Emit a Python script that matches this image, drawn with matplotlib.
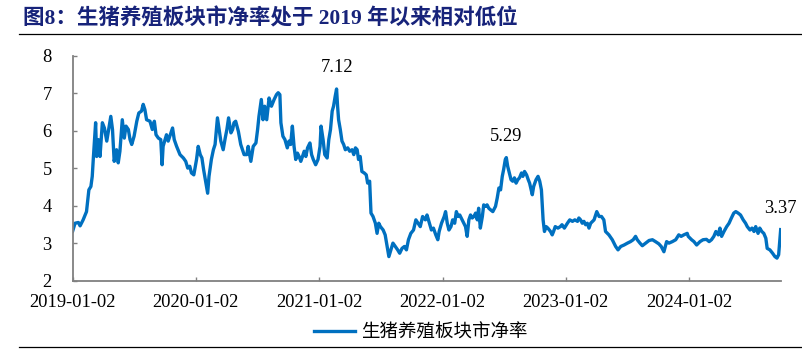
import matplotlib
matplotlib.use('Agg')
import matplotlib.pyplot as plt
import matplotlib.dates as mdates
from matplotlib.lines import Line2D
import pandas as pd

# data: P/B of the hog farming sector (date, value)
#------------------------------------------------------------------------------
pb2019 = [('01-02', 3.33), ('01-09', 3.54), ('01-19', 3.56), ('01-24', 3.47), ('02-02', 3.63),
          ('02-12', 3.85), ('02-19', 4.43), ('02-25', 4.52), ('03-01', 4.79), ('03-04', 5.24),
          ('03-11', 6.22), ('03-14', 5.32), ('03-19', 5.77), ('03-24', 5.32), ('03-31', 6.22),
          ('04-06', 6.08), ('04-13', 5.73), ('04-17', 5.95), ('04-25', 6.39), ('04-30', 6.04),
          ('05-05', 5.19), ('05-12', 5.50), ('05-17', 5.15), ('05-22', 5.46), ('05-29', 6.30),
          ('06-04', 5.81), ('06-09', 6.13), ('06-16', 6.04), ('06-21', 5.77), ('06-26', 5.64),
          ('07-03', 5.86), ('07-11', 6.26), ('07-17', 6.48), ('07-25', 6.53), ('07-30', 6.71),
          ('08-04', 6.57), ('08-09', 6.30), ('08-19', 6.26), ('08-26', 6.04), ('09-01', 6.26),
          ('09-06', 5.90), ('09-13', 5.81), ('09-20', 5.77), ('09-24', 5.10), ('09-27', 5.59),
          ('10-07', 5.90), ('10-12', 5.73), ('10-20', 5.95), ('10-25', 6.08), ('10-30', 5.77),
          ('11-06', 5.59), ('11-16', 5.37), ('11-26', 5.28), ('12-03', 5.19), ('12-09', 5.01),
          ('12-15', 5.06), ('12-20', 4.88), ('12-27', 4.83)]

pb2020 = [('01-04', 5.24), ('01-09', 5.59), ('01-15', 5.37), ('01-20', 5.28), ('01-25', 4.97),
          ('02-01', 4.61), ('02-06', 4.34), ('02-10', 4.79), ('02-17', 5.24), ('02-23', 5.50),
          ('02-28', 5.64), ('03-06', 6.35), ('03-11', 6.04), ('03-16', 5.73), ('03-23', 5.50),
          ('03-29', 5.81), ('04-03', 6.04), ('04-08', 6.35), ('04-15', 5.95), ('04-20', 6.04),
          ('04-24', 6.22), ('04-29', 6.26), ('05-07', 5.99), ('05-14', 5.64), ('05-24', 5.37),
          ('06-01', 5.37), ('06-05', 5.59), ('06-13', 5.19), ('06-20', 5.59), ('06-28', 5.68),
          ('07-03', 6.04), ('07-07', 6.39), ('07-14', 6.84), ('07-19', 6.30), ('07-24', 6.66),
          ('07-30', 6.30), ('08-06', 6.88), ('08-13', 6.66), ('08-21', 6.84), ('08-28', 6.97),
          ('09-02', 7.02), ('09-07', 6.97), ('09-10', 6.22), ('09-16', 5.86), ('09-22', 5.77),
          ('09-29', 5.55), ('10-04', 5.73), ('10-09', 5.64), ('10-14', 6.13), ('10-19', 5.59),
          ('10-24', 5.24), ('10-29', 5.41), ('11-03', 5.32), ('11-08', 5.19), ('11-13', 5.32),
          ('11-18', 5.46), ('11-23', 5.32), ('11-28', 5.55), ('12-05', 5.68), ('12-10', 5.37),
          ('12-15', 5.24), ('12-22', 5.10), ('12-29', 5.24)]

pb2021 = [('01-04', 5.59), ('01-07', 6.13), ('01-13', 5.77), ('01-18', 5.37), ('01-25', 5.28),
          ('01-30', 5.77), ('02-04', 6.04), ('02-09', 6.53), ('02-13', 6.66), ('02-18', 6.93),
          ('02-22', 7.12), ('02-25', 6.66), ('02-28', 6.30), ('03-05', 6.04), ('03-10', 5.73),
          ('03-15', 5.64), ('03-20', 5.50), ('03-27', 5.55), ('04-02', 5.46), ('04-09', 5.50),
          ('04-14', 5.37), ('04-19', 5.55), ('04-24', 5.50), ('04-28', 5.24), ('05-03', 5.32),
          ('05-08', 4.92), ('05-15', 4.88), ('05-21', 4.83), ('05-25', 4.61), ('05-31', 4.66),
          ('06-04', 3.81), ('06-10', 3.72), ('06-17', 3.54), ('06-22', 3.27), ('06-27', 3.54),
          ('07-02', 3.45), ('07-10', 3.36), ('07-16', 3.23), ('07-21', 2.96), ('07-27', 2.65),
          ('08-02', 2.83), ('08-08', 3.01), ('08-15', 2.92), ('08-22', 2.83), ('08-28', 2.74),
          ('09-04', 2.87), ('09-11', 2.92), ('09-17', 2.83), ('09-23', 3.10), ('09-30', 3.27),
          ('10-08', 3.36), ('10-15', 3.63), ('10-28', 3.45), ('11-04', 3.72), ('11-12', 3.63),
          ('11-17', 3.76), ('11-24', 3.54), ('11-30', 3.36), ('12-06', 3.41), ('12-13', 3.23),
          ('12-19', 3.10), ('12-23', 3.32), ('12-30', 3.54)]

pb2022 = [('01-07', 3.72), ('01-11', 3.85), ('01-16', 3.54), ('01-21', 3.36), ('01-27', 3.45),
          ('02-01', 3.63), ('02-07', 3.54), ('02-12', 3.85), ('02-17', 3.72), ('02-22', 3.76),
          ('03-01', 3.63), ('03-06', 3.54), ('03-11', 3.45), ('03-16', 3.19), ('03-21', 3.63),
          ('03-26', 3.76), ('03-31', 3.68), ('04-05', 3.72), ('04-10', 3.81), ('04-15', 3.63),
          ('04-19', 3.94), ('04-24', 3.41), ('04-30', 3.72), ('05-04', 4.03), ('05-09', 3.99),
          ('05-14', 4.03), ('05-19', 3.94), ('05-24', 3.90), ('05-31', 3.85), ('06-08', 3.99),
          ('06-13', 4.21), ('06-18', 4.48), ('06-23', 4.43), ('06-28', 4.79), ('07-02', 4.97),
          ('07-07', 5.24), ('07-10', 5.29), ('07-14', 5.06), ('07-19', 4.88), ('07-24', 4.70),
          ('07-29', 4.66), ('08-03', 4.75), ('08-08', 4.61), ('08-13', 4.70), ('08-18', 4.75),
          ('08-24', 4.88), ('08-28', 4.79), ('09-02', 4.92), ('09-08', 4.83), ('09-13', 4.70),
          ('09-17', 4.61), ('09-25', 4.30), ('09-29', 4.52), ('10-06', 4.70), ('10-12', 4.79),
          ('10-17', 4.66), ('10-22', 4.43), ('10-27', 3.63), ('10-31', 3.32), ('11-05', 3.45),
          ('11-10', 3.41), ('11-18', 3.32), ('11-23', 3.23), ('11-27', 3.32), ('12-02', 3.45),
          ('12-10', 3.41), ('12-17', 3.45), ('12-22', 3.50), ('12-29', 3.41)]

pb2023 = [('01-07', 3.54), ('01-14', 3.63), ('01-22', 3.59), ('01-29', 3.63), ('02-06', 3.59),
          ('02-10', 3.68), ('02-15', 3.63), ('02-20', 3.54), ('02-25', 3.59), ('03-02', 3.50),
          ('03-07', 3.54), ('03-12', 3.41), ('03-17', 3.54), ('03-27', 3.63), ('04-04', 3.85),
          ('04-11', 3.72), ('04-18', 3.72), ('04-25', 3.63), ('04-30', 3.32), ('05-10', 3.23),
          ('05-20', 3.10), ('05-30', 2.92), ('06-06', 2.83), ('06-14', 2.92), ('06-24', 2.96),
          ('07-04', 3.01), ('07-13', 3.05), ('07-21', 3.10), ('07-28', 3.19), ('08-02', 3.10),
          ('08-10', 3.01), ('08-17', 2.94), ('08-27', 3.01), ('09-06', 3.08), ('09-16', 3.10),
          ('09-25', 3.05), ('10-05', 2.99), ('10-12', 2.92), ('10-20', 2.78), ('10-28', 3.05),
          ('11-04', 3.01), ('11-14', 3.05), ('11-24', 3.10), ('12-03', 3.23), ('12-10', 3.19),
          ('12-18', 3.23), ('12-28', 3.27), ('12-31', 3.19)]

pb2024 = [('01-10', 3.10), ('01-17', 3.05), ('01-25', 2.96), ('02-04', 3.05), ('02-13', 3.10),
          ('02-23', 3.11), ('03-02', 3.05), ('03-09', 3.10), ('03-16', 3.19), ('03-22', 3.32),
          ('03-29', 3.23), ('04-03', 3.41), ('04-08', 3.19), ('04-15', 3.32), ('04-23', 3.45),
          ('04-30', 3.54), ('05-07', 3.68), ('05-14', 3.81), ('05-20', 3.85), ('05-27', 3.81),
          ('06-03', 3.76), ('06-11', 3.63), ('06-18', 3.54), ('06-23', 3.45), ('07-01', 3.36),
          ('07-07', 3.41), ('07-13', 3.32), ('07-18', 3.45), ('07-25', 3.27), ('07-30', 3.41),
          ('08-05', 3.32), ('08-11', 3.27), ('08-17', 3.14), ('08-21', 2.87), ('08-29', 2.83),
          ('09-06', 2.74), ('09-13', 2.65), ('09-19', 2.61), ('09-24', 2.70), ('09-30', 3.37)]

# labelled points
labelDates = ['2021-02-22', '2022-07-10', '2024-09-30']
labelValues = [7.12, 5.29, 3.37]

tickLabels = ['2019-01-02', '2020-01-02', '2021-01-02', '2022-01-02', '2023-01-02', '2024-01-02']

titleText = '图8：生猪养殖板块市净率处于 2019 年以来相对低位'
seriesName = '生猪养殖板块市净率'

# assemble series
#------------------------------------------------------------------------------
dates, values = [], []
for year, pairs in zip(range(2019, 2025), [pb2019, pb2020, pb2021, pb2022, pb2023, pb2024]):
    for md, v in pairs:
        dates.append('{}-{}'.format(year, md))
        values.append(v)
dates = pd.to_datetime(dates)

# plot
#------------------------------------------------------------------------------
numFont = 'Liberation Serif'
cjkFont = ['Liberation Serif', 'Noto Sans CJK SC']
lineColor = '#0070c0'
axisColor = '#808080'

fig = plt.figure(figsize=(8.03, 3.55), dpi=100)
ax = fig.add_axes([0.0905, 0.2085, 0.8817, 0.6338])

ax.plot(dates, values, color=lineColor, lw=2.4, label=seriesName, solid_joinstyle='round')

ax.set_ylim(2, 8)
ax.set_yticks(range(2, 9))
ax.set_xlim(pd.Timestamp('2019-01-02'), pd.Timestamp('2024-09-30'))
ax.set_xticks(pd.to_datetime(tickLabels))
ax.xaxis.set_major_formatter(mdates.DateFormatter('%Y-%m-%d'))

for side in ['top', 'right']:
    ax.spines[side].set_visible(False)
for side in ['left', 'bottom']:
    ax.spines[side].set_color(axisColor)
    ax.spines[side].set_linewidth(1.3)

ax.tick_params(axis='both', direction='in', length=3, width=1, color=axisColor,
               labelsize=13.3, labelcolor='black')
ax.tick_params(axis='y', pad=15)
ax.tick_params(axis='x', pad=9.5)
for lab in ax.get_xticklabels() + ax.get_yticklabels():
    lab.set_fontfamily(numFont)

# value labels above the peaks
for d, v in zip(labelDates, labelValues):
    ax.annotate('{:.2f}'.format(v), xy=(pd.Timestamp(d), v), xytext=(0, 12.2),
                textcoords='offset points', ha='center', va='baseline',
                fontsize=13.3, family=numFont, annotation_clip=False)

# legend
fig.legend(loc='center', bbox_to_anchor=(0.524, 0.062), frameon=False,
           prop={'family': cjkFont, 'size': 13.3}, handlelength=2.2, handletextpad=0.35)

# title and rules
fig.text(0.0283, 0.946, titleText, family=cjkFont, fontsize=15.5, fontweight='bold',
         color='#17237a', ha='left', va='center')
fig.add_artist(Line2D([19/803, 1], [1 - 33.5/355]*2, transform=fig.transFigure, color='black', lw=0.9))
fig.add_artist(Line2D([19/803, 1], [1 - 346.7/355]*2, transform=fig.transFigure, color='black', lw=0.9))

fig.savefig('out.png', dpi=100)
